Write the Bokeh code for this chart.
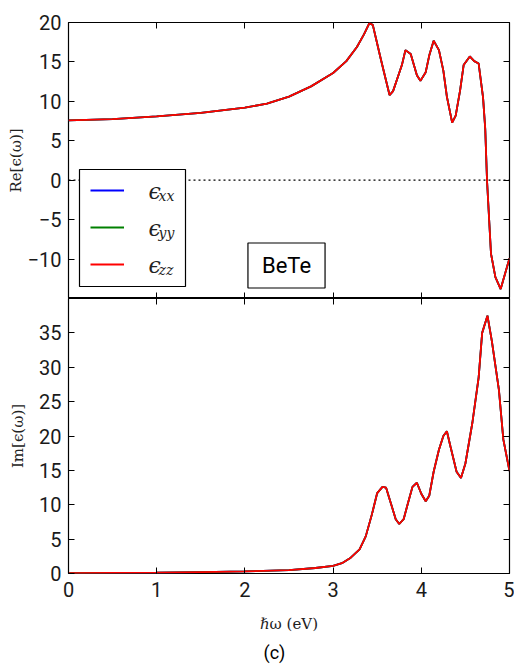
from bokeh.embed import file_html
from bokeh.layouts import column
from bokeh.models import (BoxAnnotation, FixedTicker, Label, Legend, LegendItem,
                          LinearAxis, Range1d, Span, Title)
from bokeh.plotting import figure
from bokeh.resources import INLINE

# Real part of the dielectric function of BeTe vs photon energy (eV)
energy_re = [0.0, 0.5, 1.0, 1.5, 2.0, 2.25, 2.5, 2.75, 3.0, 3.15, 3.27, 3.35,
             3.41, 3.45, 3.54, 3.64, 3.68, 3.78, 3.82, 3.88, 3.95, 3.99, 4.05,
             4.09, 4.14, 4.20, 4.25, 4.29, 4.35, 4.39, 4.44, 4.48, 4.55, 4.60,
             4.65, 4.70, 4.725, 4.745, 4.79, 4.84, 4.90, 5.0]
re_eps = [7.6, 7.75, 8.1, 8.55, 9.2, 9.7, 10.6, 11.9, 13.6, 15.1, 16.9, 18.5,
          19.9, 19.7, 15.4, 10.8, 11.3, 14.6, 16.5, 16.0, 13.3, 12.6, 13.7,
          15.8, 17.7, 16.5, 13.9, 10.6, 7.3, 8.2, 11.4, 14.6, 15.7, 15.1,
          14.8, 10.5, 6.5, 0.0, -9.3, -12.3, -13.8, -9.9]

# Imaginary part of the dielectric function
energy_im = [0.0, 0.5, 1.0, 1.5, 2.0, 2.5, 2.8, 3.0, 3.1, 3.2, 3.3, 3.37, 3.44,
             3.50, 3.56, 3.60, 3.66, 3.71, 3.75, 3.80, 3.85, 3.90, 3.95, 4.00,
             4.05, 4.09, 4.14, 4.20, 4.25, 4.29, 4.33, 4.40, 4.45, 4.50, 4.58,
             4.65, 4.69, 4.75, 4.80, 4.88, 4.93, 5.0]
im_eps = [0.05, 0.08, 0.12, 0.2, 0.3, 0.5, 0.8, 1.1, 1.5, 2.3, 3.5, 5.4, 8.6,
          11.7, 12.6, 12.5, 10.0, 7.9, 7.2, 7.9, 10.3, 12.6, 13.2, 11.6,
          10.5, 11.3, 14.8, 18.0, 20.0, 20.7, 18.5, 14.8, 13.9, 16.0, 22.0,
          28.5, 35.0, 37.5, 33.8, 26.7, 19.5, 14.9]

# Cubic crystal: the three diagonal components coincide
components = ["xx", "yy", "zz"]
component_colors = ["blue", "green", "red"]

x_ticks = [0, 1, 2, 3, 4, 5]
re_ticks = [-10, -5, 0, 5, 10, 15, 20]
im_ticks = [0, 5, 10, 15, 20, 25, 30, 35]

material = "BeTe"
panel_tag = "(c)"

x_range = Range1d(0, 5)
TEXT = "#1a1a1a"


def style_labeled_axis(ax, ticks):
    ax.ticker = FixedTicker(ticks=ticks)
    ax.major_tick_in = 6
    ax.major_tick_out = 0
    ax.minor_tick_in = 0
    ax.minor_tick_out = 0
    ax.major_tick_line_color = "black"
    ax.axis_line_color = None
    ax.major_label_text_font = "Roboto"
    ax.major_label_text_font_size = "20px"
    ax.major_label_text_color = TEXT
    ax.major_label_standoff = 7
    ax.axis_label_text_font = "DejaVu Serif"
    ax.axis_label_text_font_size = "15px"
    ax.axis_label_text_font_style = "normal"
    ax.axis_label_text_color = "#222222"


def add_tick_only_axis(p, ticks, side):
    # inward ticks without labels: drawn as the axis' minor ticks
    ax = LinearAxis(ticker=FixedTicker(ticks=[], minor_ticks=ticks))
    ax.axis_line_color = None
    ax.major_tick_in = 0
    ax.major_tick_out = 0
    ax.minor_tick_in = 6
    ax.minor_tick_out = 0
    ax.minor_tick_line_color = "black"
    ax.major_label_standoff = 0
    p.add_layout(ax, side)
    return ax


def make_panel(height, y_range, border_top, border_bottom, x_axis):
    p = figure(width=514, height=height, x_range=x_range, y_range=y_range,
               output_backend="svg", toolbar_location=None,
               x_axis_location=x_axis,
               min_border_left=68, min_border_right=5,
               min_border_top=border_top, min_border_bottom=border_bottom,
               background_fill_color="white", border_fill_color="white",
               outline_line_color="black", outline_line_width=1.2)
    p.grid.visible = False
    return p


# ---- upper panel: Re[eps] ----
top = make_panel(298, Range1d(-15, 20), 22, 0, None)
style_labeled_axis(top.left[0], re_ticks)
top.left[0].major_label_overrides = {-10: "\u221210", -5: "\u22125"}
top.left[0].axis_label = "Re[\u03f5(\u03c9)]"
top.left[0].axis_label_standoff = 0
add_tick_only_axis(top, re_ticks, "right")
add_tick_only_axis(top, x_ticks, "below")
add_tick_only_axis(top, x_ticks, "above")

top.add_layout(Span(location=0, dimension="width", line_color="black",
                    line_width=1.2, line_dash="2 3"))

re_lines = []
for comp, color in zip(components, component_colors):
    r = top.line(energy_re, re_eps, line_color=color, line_width=1.8)
    re_lines.append(r)

# legend frame (white box), then swatches, then the entry texts on top
top.add_layout(BoxAnnotation(left=11, right=117, bottom=12, top=129,
                             left_units="screen", right_units="screen",
                             bottom_units="screen", top_units="screen",
                             fill_color="white", fill_alpha=1.0,
                             line_color="black", line_width=1.2, line_alpha=1.0))

legend = Legend(items=[LegendItem(label=" ", renderers=[r]) for r in re_lines],
                location=(11, 13), margin=0, padding=11, spacing=17,
                glyph_width=34, glyph_height=20, label_height=20,
                label_width=25, label_standoff=25,
                label_text_font_size="12px",
                border_line_color="black", border_line_alpha=0.0,
                background_fill_alpha=0.0)
top.add_layout(legend)

for i, comp in enumerate(components):
    top.add_layout(Label(x=80, y=107.5 - 37 * i, x_units="screen", y_units="screen",
                         text="\u03f5", text_font="DejaVu Serif",
                         text_font_style="italic", text_font_size="22px",
                         text_color="#222222", text_baseline="middle"))
    top.add_layout(Label(x=90, y=103 - 37 * i, x_units="screen", y_units="screen",
                         text=comp, text_font="DejaVu Serif",
                         text_font_style="italic", text_font_size="14px",
                         text_color="#222222", text_baseline="middle"))

top.add_layout(Label(x=218, y=33, x_units="screen", y_units="screen",
                     text=material, text_font="Roboto", text_font_size="22px",
                     text_color="black", text_align="center",
                     text_baseline="middle",
                     padding=dict(left=14, right=14, top=10, bottom=10),
                     border_line_color="black", border_line_width=1.2,
                     background_fill_color="white"))

# ---- lower panel: Im[eps] ----
bottom = make_panel(369, Range1d(0, 40), 0, 93, "below")
style_labeled_axis(bottom.left[0], im_ticks)
style_labeled_axis(bottom.below[0], x_ticks)
bottom.left[0].axis_label = "Im[\u03f5(\u03c9)]"
bottom.left[0].axis_label_standoff = 9
bottom.below[0].axis_label = "\u210f\u03c9 (eV)"
bottom.below[0].axis_label_standoff = 15
bottom.below[0].major_label_standoff = 8
add_tick_only_axis(bottom, im_ticks, "right")
add_tick_only_axis(bottom, x_ticks, "above")

for comp, color in zip(components, component_colors):
    bottom.line(energy_im, im_eps, line_color=color, line_width=1.8)

bottom.add_layout(Title(text=panel_tag, align="left", offset=195, standoff=9,
                        text_font="Roboto", text_font_size="18px",
                        text_font_style="normal", text_color="black"), "below")

layout = column(top, bottom, spacing=0)
open("out.html", "w").write(file_html(layout, INLINE))
